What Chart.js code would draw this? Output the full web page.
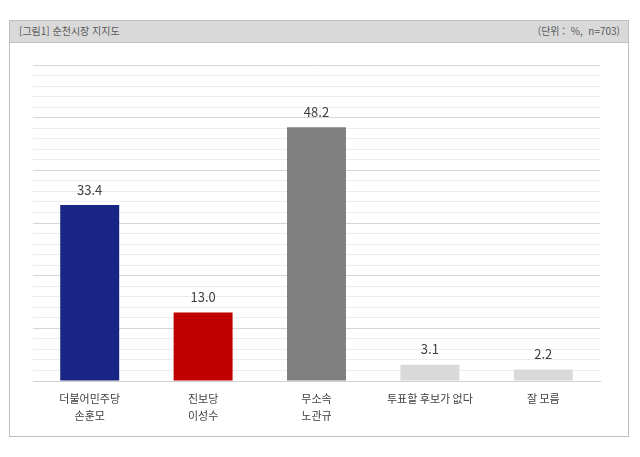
<!DOCTYPE html>
<html lang="ko">
<head>
<meta charset="utf-8">
<script src="https://cdn.jsdelivr.net/npm/chart.js@4"></script>
<style>
    html, body { margin: 0; padding: 0; background: #fff; }
    body { width: 640px; height: 457px; position: relative; overflow: hidden; font-family: "Noto Sans CJK KR", sans-serif; }
    .frame { position: absolute; left: 9px; top: 20px; width: 620px; height: 417px; border: 1px solid #bfbfbf; box-sizing: border-box; }
    .header { position: absolute; left: 0; top: 0; right: 0; height: 21px; background: #d9d9d9; border-bottom: 1px solid #c4c4c4; color: #595959; font-size: 10px; line-height: 20px; }
    .header .title { position: absolute; left: 9px; }
    .header .unit { position: absolute; right: 8px; white-space: pre; }
    canvas { position: absolute; left: 0; top: 0; }
</style>
</head>
<body>
<div class="frame">
    <div class="header"><span class="title">[그림1] 순천시장 지지도</span><span class="unit">(단위 :  %,  n=703)</span></div>
</div>
<div style="position:absolute;left:0;top:0;width:640px;height:457px;">
    <canvas id="chart"></canvas>
</div>
<script>
    // Data
    const categories = [
        ['더불어민주당', '손훈모'],
        ['진보당', '이성수'],
        ['무소속', '노관규'],
        '투표할 후보가 없다',
        '잘 모름'
    ];
    const support = [33.4, 13.0, 48.2, 3.1, 2.2];
    const barColors = ['#182584', '#c00000', '#808080', '#d9d9d9', '#d9d9d9'];
    const yMax = 60;

    // Draws the value above each bar
    const valueLabels = {
        id: 'valueLabels',
        afterDatasetsDraw(chart) {
            const ctx = chart.ctx;
            const meta = chart.getDatasetMeta(0);
            ctx.save();
            ctx.font = '13px "Noto Sans CJK KR", sans-serif';
            ctx.fillStyle = '#404040';
            ctx.textAlign = 'center';
            ctx.textBaseline = 'bottom';
            meta.data.forEach((bar, i) => {
                ctx.fillText(support[i].toFixed(1), bar.x, bar.y - 9);
            });
            ctx.restore();
        }
    };

    new Chart(document.getElementById('chart'), {
        type: 'bar',
        data: {
            labels: categories,
            datasets: [{
                data: support,
                backgroundColor: barColors,
                borderWidth: 0,
                barPercentage: 0.52,
                categoryPercentage: 1
            }]
        },
        options: {
            responsive: true,
            maintainAspectRatio: false,
            animation: false,
            layout: {
                padding: { left: 33, right: 40, top: 65, bottom: 20 }
            },
            plugins: {
                legend: { display: false },
                tooltip: { enabled: false }
            },
            scales: {
                x: {
                    grid: { display: false },
                    border: { color: '#d0d0d0', width: 1 },
                    ticks: {
                        color: '#404040',
                        padding: 1,
                        maxRotation: 0,
                        font: { size: 11, family: '"Noto Sans CJK KR", sans-serif', lineHeight: 1.55 }
                    },
                    afterFit: function (scale) {
                        scale.height = 56;
                    }
                },
                y: {
                    min: 0,
                    max: yMax,
                    border: { display: false },
                    grid: {
                        drawTicks: false,
                        color: function (context) {
                            return context.tick.value % 10 === 0 ? '#d6d6d6' : '#ececec';
                        }
                    },
                    ticks: { display: false, stepSize: 2 },
                    afterFit: function (scale) {
                        scale.width = 0;
                    }
                }
            }
        },
        plugins: [valueLabels]
    });
</script>
</body>
</html>
